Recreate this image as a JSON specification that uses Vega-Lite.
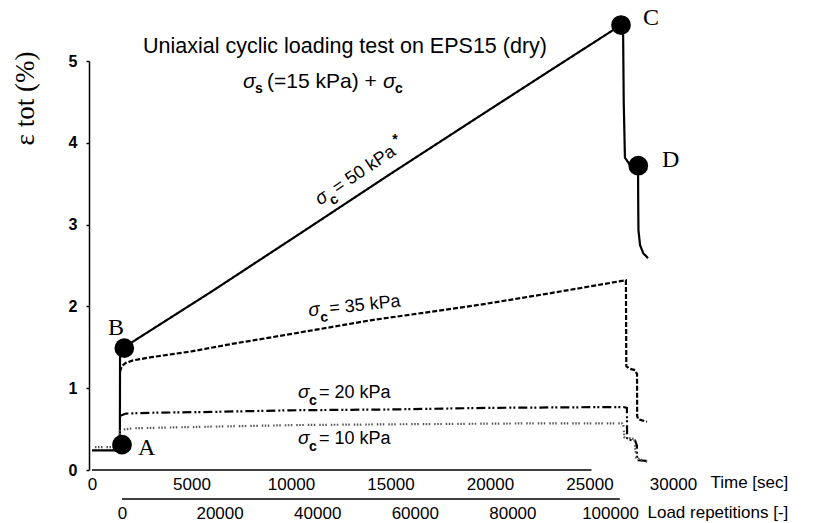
{
  "$schema": "https://vega.github.io/schema/vega-lite/v6.json",
  "width": 597,
  "height": 409,
  "autosize": {"type": "none"},
  "padding": {"left": 92, "top": 61, "right": 125, "bottom": 53},
  "background": "white",
  "config": {"view": {"stroke": null}, "font": "Liberation Sans"},
  "datasets": {
    "curves": [
      {"s": "s50", "i": 2, "t": 0, "e": 0.24},
      {"s": "s50", "i": 3, "t": 1400, "e": 0.24},
      {"s": "s50", "i": 4, "t": 1410, "e": 1.45},
      {"s": "s50", "i": 5, "t": 1700, "e": 1.52},
      {"s": "s50", "i": 6, "t": 2060, "e": 1.57},
      {"s": "s50", "i": 7, "t": 6000, "e": 2.18},
      {"s": "s50", "i": 8, "t": 10450, "e": 2.89},
      {"s": "s50", "i": 9, "t": 15000, "e": 3.62},
      {"s": "s50", "i": 10, "t": 19500, "e": 4.33},
      {"s": "s50", "i": 11, "t": 23000, "e": 4.88},
      {"s": "s50", "i": 12, "t": 26583, "e": 5.44},
      {"s": "s50", "i": 13, "t": 26690, "e": 5.32},
      {"s": "s50", "i": 14, "t": 26720, "e": 4.5},
      {"s": "s50", "i": 15, "t": 26780, "e": 3.82},
      {"s": "s50", "i": 16, "t": 27000, "e": 3.74},
      {"s": "s50", "i": 17, "t": 27300, "e": 3.72},
      {"s": "s50", "i": 18, "t": 27440, "e": 3.66},
      {"s": "s50", "i": 19, "t": 27450, "e": 3.2},
      {"s": "s50", "i": 20, "t": 27460, "e": 2.93},
      {"s": "s50", "i": 21, "t": 27540, "e": 2.75},
      {"s": "s50", "i": 22, "t": 27700, "e": 2.65},
      {"s": "s50", "i": 23, "t": 27940, "e": 2.59},
      {"s": "s35", "i": 1, "t": 1400, "e": 1.2},
      {"s": "s35", "i": 2, "t": 1500, "e": 1.27},
      {"s": "s35", "i": 3, "t": 1700, "e": 1.31},
      {"s": "s35", "i": 4, "t": 2060, "e": 1.34},
      {"s": "s35", "i": 5, "t": 3000, "e": 1.38},
      {"s": "s35", "i": 6, "t": 5000, "e": 1.45},
      {"s": "s35", "i": 7, "t": 7000, "e": 1.54},
      {"s": "s35", "i": 8, "t": 9450, "e": 1.64},
      {"s": "s35", "i": 9, "t": 14000, "e": 1.83},
      {"s": "s35", "i": 10, "t": 19500, "e": 2.02},
      {"s": "s35", "i": 11, "t": 23000, "e": 2.16},
      {"s": "s35", "i": 12, "t": 26830, "e": 2.32},
      {"s": "s35", "i": 13, "t": 26840, "e": 1.8},
      {"s": "s35", "i": 14, "t": 26850, "e": 1.27},
      {"s": "s35", "i": 15, "t": 27000, "e": 1.24},
      {"s": "s35", "i": 16, "t": 27300, "e": 1.22},
      {"s": "s35", "i": 17, "t": 27390, "e": 1.17},
      {"s": "s35", "i": 18, "t": 27395, "e": 0.66},
      {"s": "s35", "i": 19, "t": 27450, "e": 0.62},
      {"s": "s35", "i": 20, "t": 27890, "e": 0.59},
      {"s": "s20", "i": 1, "t": 1400, "e": 0.66},
      {"s": "s20", "i": 2, "t": 1700, "e": 0.69},
      {"s": "s20", "i": 3, "t": 3000, "e": 0.7},
      {"s": "s20", "i": 4, "t": 6000, "e": 0.71},
      {"s": "s20", "i": 5, "t": 10000, "e": 0.73},
      {"s": "s20", "i": 6, "t": 15000, "e": 0.74},
      {"s": "s20", "i": 7, "t": 20000, "e": 0.76},
      {"s": "s20", "i": 8, "t": 26700, "e": 0.77},
      {"s": "s20", "i": 9, "t": 26880, "e": 0.76},
      {"s": "s20", "i": 10, "t": 26890, "e": 0.39},
      {"s": "s20", "i": 11, "t": 27000, "e": 0.37},
      {"s": "s20", "i": 12, "t": 27290, "e": 0.36},
      {"s": "s20", "i": 13, "t": 27380, "e": 0.3},
      {"s": "s20", "i": 14, "t": 27390, "e": 0.12},
      {"s": "s20", "i": 15, "t": 27900, "e": 0.11},
      {"s": "s10", "i": 1, "t": 150, "e": 0.28},
      {"s": "s10", "i": 2, "t": 1400, "e": 0.28},
      {"s": "s10", "i": 3, "t": 1405, "e": 0.49},
      {"s": "s10", "i": 4, "t": 2060, "e": 0.51},
      {"s": "s10", "i": 5, "t": 6000, "e": 0.53},
      {"s": "s10", "i": 6, "t": 10450, "e": 0.55},
      {"s": "s10", "i": 7, "t": 16000, "e": 0.56},
      {"s": "s10", "i": 8, "t": 22000, "e": 0.57},
      {"s": "s10", "i": 9, "t": 26630, "e": 0.57},
      {"s": "s10", "i": 10, "t": 26700, "e": 0.55},
      {"s": "s10", "i": 11, "t": 26750, "e": 0.4},
      {"s": "s10", "i": 12, "t": 27250, "e": 0.38},
      {"s": "s10", "i": 13, "t": 27350, "e": 0.15},
      {"s": "s10", "i": 14, "t": 27900, "e": 0.1}
    ],
    "timeaxis": [{"t": 0, "t2": 25100, "e": 0}],
    "loadaxis": [{"r0": 0, "r1": 102000, "e": -0.355}],
    "pts": [
      {"t": 1508, "e": 0.31},
      {"t": 1623, "e": 1.49},
      {"t": 26583, "e": 5.44},
      {"t": 27452, "e": 3.72}
    ],
    "letters": [
      {"t": 2312, "e": 0.18, "txt": "A"},
      {"t": 804, "e": 1.65, "txt": "B"},
      {"t": 27688, "e": 5.44, "txt": "C"},
      {"t": 28643, "e": 3.7, "txt": "D"}
    ],
    "title1": [{"t": 12714, "e": 5.1, "txt": "Uniaxial cyclic loading test on EPS15 (dry)"}],
    "lab_t": [
      {"t": 7588, "e": 4.67, "sub": "s", "rest": "(=15 kPa) +"},
      {"t": 14623, "e": 4.67, "sub": "c", "rest": ""}
    ],
    "lab_h": [
      {"t": 10352, "e": 0.88, "sub": "c", "rest": "= 20 kPa"},
      {"t": 10352, "e": 0.318, "sub": "c", "rest": "= 10 kPa"}
    ],
    "lab_35": [{"t": 10905, "e": 1.88, "sub": "c", "rest": "= 35 kPa"}],
    "lab_50": [{"t": 11457, "e": 3.23, "sub": "c", "rest": "= 50 kPa"}],
    "star": [{"t": 15226, "e": 4.03, "txt": "*"}]
  },
  "layer": [
    {
      "encoding": {
        "x": {
          "field": "t", "type": "quantitative",
          "scale": {"domain": [0, 30000], "nice": false, "zero": false},
          "axis": {
            "values": [0, 5000, 10000, 15000, 20000, 25000, 30000], "format": "d",
            "domain": false, "ticks": false, "grid": false,
            "labelPadding": 6, "labelFontSize": 17, "labelColor": "black", "labelFont": "Liberation Sans",
            "labelFlush": false, "labelOverlap": false, "labelBound": false,
            "labelOffset": {"condition": {"test": "datum.value == 30000", "value": -16}, "value": 0},
            "title": "Time [sec]", "titleX": 618, "titleY": 12, "titleAlign": "left", "titleBaseline": "middle",
            "titleFontSize": 17, "titleFontWeight": "normal", "titleColor": "black", "titleFont": "Liberation Sans"
          }
        },
        "y": {
          "field": "e", "type": "quantitative",
          "scale": {"domain": [0, 5], "nice": false, "zero": false},
          "axis": {
            "values": [0, 1, 2, 3, 4, 5], "format": "d", "grid": false, "offset": 3,
            "domainColor": "black", "domainWidth": 1.5, "tickColor": "black", "tickSize": 3, "tickWidth": 1.5,
            "labelPadding": 9, "labelFontSize": 16, "labelFontWeight": "bold", "labelColor": "black", "labelFont": "Liberation Sans",
            "title": "ε tot (%)", "titleFont": "Liberation Serif", "titleFontSize": 27, "titleFontWeight": "normal",
            "titleColor": "black", "titleX": -64, "titleY": 37, "titleAlign": "center", "titleBaseline": "middle", "titleAngle": 270
          }
        }
      },
      "layer": [
        {
          "data": {"name": "timeaxis"},
          "mark": {"type": "rule", "color": "black", "strokeWidth": 1.5},
          "encoding": {"x2": {"field": "t2"}}
        },
        {
          "data": {"name": "curves"},
          "mark": {"type": "line", "strokeWidth": 2.2},
          "encoding": {
            "detail": {"field": "s", "type": "nominal"},
            "order": {"field": "i", "type": "quantitative"},
            "strokeDash": {"field": "s", "type": "nominal",
              "scale": {"domain": ["s50", "s35", "s20", "s10"], "range": [[1, 0], [5, 2], [9, 3, 2, 2, 2, 3], [1.5, 1.5, 1.5, 1.5, 1.5, 4]]},
              "legend": null},
            "color": {"field": "s", "type": "nominal",
              "scale": {"domain": ["s50", "s35", "s20", "s10"], "range": ["#000000", "#000000", "#000000", "#555555"]},
              "legend": null}
          }
        },
        {
          "data": {"name": "pts"},
          "mark": {"type": "point", "shape": "circle", "filled": true, "size": 390, "color": "black", "opacity": 1}
        },
        {
          "data": {"name": "letters"},
          "mark": {"type": "text", "font": "Liberation Serif", "fontSize": 24, "align": "left", "baseline": "alphabetic", "color": "black"},
          "encoding": {"text": {"field": "txt"}}
        },
        {
          "data": {"name": "title1"},
          "mark": {"type": "text", "fontSize": 21.5, "align": "center", "baseline": "alphabetic", "color": "black"},
          "encoding": {"text": {"field": "txt"}}
        },
        {
          "data": {"name": "lab_t"},
          "mark": {"type": "text", "fontSize": 21, "fontStyle": "italic", "align": "left", "baseline": "alphabetic", "color": "black"},
          "encoding": {"text": {"value": "σ"}}
        },
        {
          "data": {"name": "lab_t"},
          "mark": {"type": "text", "fontSize": 14, "fontWeight": "bold", "align": "left", "baseline": "alphabetic", "dx": 12, "dy": 5, "color": "black"},
          "encoding": {"text": {"field": "sub"}}
        },
        {
          "data": {"name": "lab_t"},
          "mark": {"type": "text", "fontSize": 21, "align": "left", "baseline": "alphabetic", "dx": 24, "color": "black"},
          "encoding": {"text": {"field": "rest"}}
        },
        {
          "data": {"name": "lab_h"},
          "mark": {"type": "text", "fontSize": 19, "fontStyle": "italic", "align": "left", "baseline": "alphabetic", "color": "black"},
          "encoding": {"text": {"value": "σ"}}
        },
        {
          "data": {"name": "lab_h"},
          "mark": {"type": "text", "fontSize": 14, "fontWeight": "bold", "align": "left", "baseline": "alphabetic", "dx": 11, "dy": 7, "color": "black"},
          "encoding": {"text": {"field": "sub"}}
        },
        {
          "data": {"name": "lab_h"},
          "mark": {"type": "text", "fontSize": 18, "align": "left", "baseline": "alphabetic", "dx": 21, "color": "black"},
          "encoding": {"text": {"field": "rest"}}
        },
        {
          "data": {"name": "lab_35"},
          "mark": {"type": "text", "fontSize": 19, "fontStyle": "italic", "align": "left", "baseline": "alphabetic", "angle": -6, "color": "black"},
          "encoding": {"text": {"value": "σ"}}
        },
        {
          "data": {"name": "lab_35"},
          "mark": {"type": "text", "fontSize": 14, "fontWeight": "bold", "align": "left", "baseline": "alphabetic", "dx": 11, "dy": 7, "angle": -6, "color": "black"},
          "encoding": {"text": {"field": "sub"}}
        },
        {
          "data": {"name": "lab_35"},
          "mark": {"type": "text", "fontSize": 18, "align": "left", "baseline": "alphabetic", "dx": 21, "angle": -6, "color": "black"},
          "encoding": {"text": {"field": "rest"}}
        },
        {
          "data": {"name": "lab_50"},
          "mark": {"type": "text", "fontSize": 19, "fontStyle": "italic", "align": "left", "baseline": "alphabetic", "angle": -34, "color": "black"},
          "encoding": {"text": {"value": "σ"}}
        },
        {
          "data": {"name": "lab_50"},
          "mark": {"type": "text", "fontSize": 14, "fontWeight": "bold", "align": "left", "baseline": "alphabetic", "dx": 11, "dy": 7, "angle": -34, "color": "black"},
          "encoding": {"text": {"field": "sub"}}
        },
        {
          "data": {"name": "lab_50"},
          "mark": {"type": "text", "fontSize": 18, "align": "left", "baseline": "alphabetic", "dx": 21, "angle": -34, "color": "black"},
          "encoding": {"text": {"field": "rest"}}
        },
        {
          "data": {"name": "star"},
          "mark": {"type": "text", "fontSize": 14, "fontWeight": "bold", "align": "center", "baseline": "middle", "color": "black"},
          "encoding": {"text": {"field": "txt"}}
        }
      ]
    },
    {
      "data": {"name": "loadaxis"},
      "mark": {"type": "rule", "color": "black", "strokeWidth": 1.5},
      "encoding": {
        "x": {
          "field": "r0", "type": "quantitative",
          "scale": {"domain": [-6148, 116189], "nice": false, "zero": false},
          "axis": {
            "orient": "bottom", "offset": 29,
            "values": [0, 20000, 40000, 60000, 80000, 100000], "format": "d",
            "domain": false, "ticks": false, "grid": false,
            "labelPadding": 6, "labelFontSize": 17, "labelColor": "black", "labelFont": "Liberation Sans",
            "labelFlush": false, "labelOverlap": false, "labelBound": false,
            "title": "Load repetitions [-]", "titleX": 555, "titleY": 13, "titleAlign": "left", "titleBaseline": "middle",
            "titleFontSize": 17, "titleFontWeight": "normal", "titleColor": "black", "titleFont": "Liberation Sans"
          }
        },
        "x2": {"field": "r1"},
        "y": {"field": "e", "type": "quantitative"}
      }
    }
  ],
  "resolve": {"scale": {"x": "independent"}, "axis": {"x": "independent"}}
}
